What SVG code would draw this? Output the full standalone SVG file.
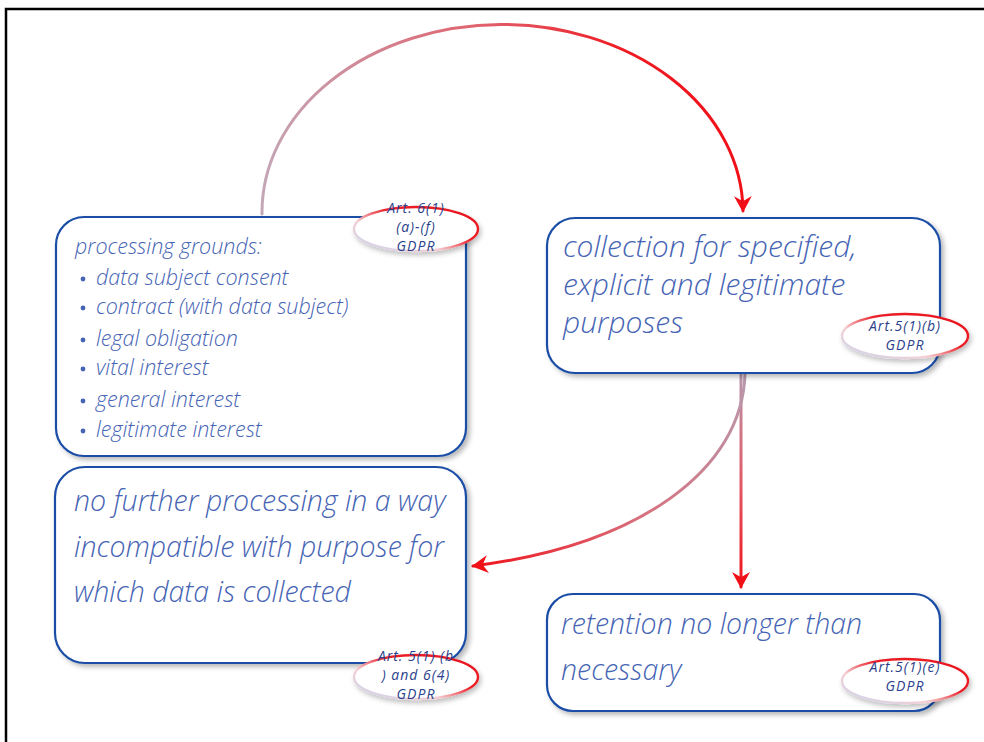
<svg xmlns="http://www.w3.org/2000/svg" width="984" height="742" viewBox="0 0 984 742">
  <defs>
    <style>
      .box { fill: #ffffff; stroke: #1a4ea6; stroke-width: 2.2; filter: url(#shadow); }
      .txt { font-family: "Open Sans", "Noto Sans", "Liberation Sans", sans-serif; font-style: italic; font-weight: 300; fill: #4664b4; }
      .big { font-size: 28.5px; }
      .huge { font-size: 30px; }
      .small { font-size: 21.5px; }
      .bullet { fill: #4664b4; }
      .badge { fill: #ffffff; stroke: url(#badgeStroke); stroke-width: 2.4; filter: url(#badgeShadow); }
      .ref { font-family: "Open Sans", "Noto Sans", "Liberation Sans", sans-serif; font-style: italic; font-size: 14px; letter-spacing: 1px; fill: #2c3f8c; text-anchor: middle; }
      .conn { fill: none; stroke-width: 3; stroke-linecap: round; }
    </style>
    <filter id="shadow" x="-10%" y="-10%" width="125%" height="125%">
      <feDropShadow dx="3" dy="3" stdDeviation="2.5" flood-color="#000000" flood-opacity="0.28"/>
    </filter>
    <filter id="badgeShadow" x="-20%" y="-30%" width="140%" height="170%">
      <feDropShadow dx="2" dy="3" stdDeviation="2.5" flood-color="#000000" flood-opacity="0.25"/>
    </filter>
    <linearGradient id="badgeStroke" x1="0" y1="1" x2="1" y2="0">
      <stop offset="0" stop-color="#c8d4ee"/>
      <stop offset="0.35" stop-color="#f4d0d4"/>
      <stop offset="0.6" stop-color="#ea2028"/>
      <stop offset="1" stop-color="#e8141c"/>
    </linearGradient>
    <linearGradient id="arcGrad" gradientUnits="userSpaceOnUse" x1="262" y1="0" x2="743" y2="0">
      <stop offset="0" stop-color="#c4a6b6"/>
      <stop offset="0.45" stop-color="#e0636e"/>
      <stop offset="0.75" stop-color="#ee1c24"/>
      <stop offset="1" stop-color="#f01018"/>
    </linearGradient>
    <linearGradient id="downGrad" gradientUnits="userSpaceOnUse" x1="0" y1="373" x2="0" y2="592">
      <stop offset="0" stop-color="#b898ac"/>
      <stop offset="0.5" stop-color="#e25a66"/>
      <stop offset="1" stop-color="#f01018"/>
    </linearGradient>
    <linearGradient id="curveGrad" gradientUnits="userSpaceOnUse" x1="745" y1="373" x2="467" y2="566">
      <stop offset="0" stop-color="#b898ac"/>
      <stop offset="0.5" stop-color="#d8707e"/>
      <stop offset="1" stop-color="#f01018"/>
    </linearGradient>
    <marker id="arrow" viewBox="0 0 12 12" refX="10" refY="6" markerWidth="6" markerHeight="6" markerUnits="strokeWidth" orient="auto">
      <path d="M0,0 L11,6 L0,12 L3.5,6 Z" fill="#f01018"/>
    </marker>
  </defs>

  <!-- page frame -->
  <path d="M6,742 L6,9 L984,9" fill="none" stroke="#000000" stroke-width="2.5"/>

  <g id="connectors">
    <path class="conn" stroke="url(#arcGrad)" d="M262,214 A240.5,188 0 0 1 743,211" marker-end="url(#arrow)"/>
    <path class="conn" stroke="url(#downGrad)" d="M741,374 L741,587" marker-end="url(#arrow)"/>
    <path class="conn" stroke="url(#curveGrad)" d="M745,374 C742,470 640,545 473,566" marker-end="url(#arrow)"/>
  </g>

  <g id="processing-grounds">
    <rect class="box" x="56" y="217" width="410" height="239" rx="28"/>
    <text class="txt small" x="75" y="254">processing grounds:</text>
    <circle class="bullet" cx="83" cy="279" r="2.4"/>
    <text class="txt small" x="96" y="285">data subject consent</text>
    <circle class="bullet" cx="83" cy="308" r="2.4"/>
    <text class="txt small" x="96" y="314">contract (with data subject)</text>
    <circle class="bullet" cx="83" cy="340" r="2.4"/>
    <text class="txt small" x="96" y="346">legal obligation</text>
    <circle class="bullet" cx="83" cy="369" r="2.4"/>
    <text class="txt small" x="96" y="375">vital interest</text>
    <circle class="bullet" cx="83" cy="401" r="2.4"/>
    <text class="txt small" x="96" y="407">general interest</text>
    <circle class="bullet" cx="83" cy="431" r="2.4"/>
    <text class="txt small" x="96" y="437">legitimate interest</text>
    <ellipse class="badge" cx="416" cy="229" rx="62" ry="22"/>
    <text class="ref" x="416" y="213">Art. 6(1)</text>
    <text class="ref" x="416" y="232">(a)-(f)</text>
    <text class="ref" x="416" y="251">GDPR</text>
  </g>

  <g id="collection">
    <rect class="box" x="547" y="218" width="393" height="155" rx="28"/>
    <text class="txt huge" x="563" y="257">collection for specified,</text>
    <text class="txt huge" x="563" y="295">explicit and legitimate</text>
    <text class="txt huge" x="563" y="333">purposes</text>
    <ellipse class="badge" cx="905" cy="336" rx="63" ry="22"/>
    <text class="ref" x="905" y="331">Art.5(1)(b)</text>
    <text class="ref" x="905" y="350">GDPR</text>
  </g>

  <g id="further-processing">
    <rect class="box" x="55" y="467" width="411" height="196" rx="30"/>
    <text class="txt big" x="74" y="511">no further processing in a way</text>
    <text class="txt big" x="74" y="557">incompatible with purpose for</text>
    <text class="txt big" x="74" y="602">which data is collected</text>
    <ellipse class="badge" cx="416" cy="677" rx="62" ry="22"/>
    <text class="ref" x="416" y="661">Art. 5(1) (b</text>
    <text class="ref" x="416" y="680">) and 6(4)</text>
    <text class="ref" x="416" y="699">GDPR</text>
  </g>

  <g id="retention">
    <rect class="box" x="547" y="594" width="393" height="117" rx="26"/>
    <text class="txt big" x="561" y="634">retention no longer than</text>
    <text class="txt big" x="561" y="680">necessary</text>
    <ellipse class="badge" cx="905" cy="681" rx="63" ry="22"/>
    <text class="ref" x="905" y="672">Art.5(1)(e)</text>
    <text class="ref" x="905" y="691">GDPR</text>
  </g>
</svg>
